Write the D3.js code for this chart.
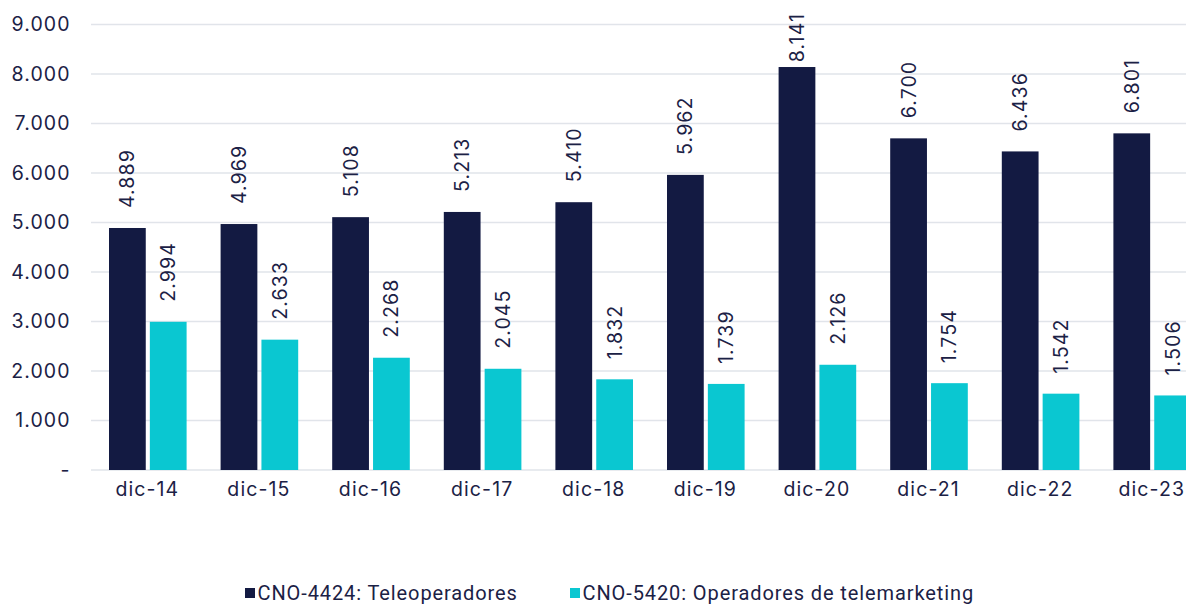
<!DOCTYPE html>
<html><head><meta charset="utf-8">
<script src="https://cdn.jsdelivr.net/npm/d3@7"></script>
<style>body{margin:0;background:#fff}svg{display:block}</style>
</head><body>
<svg id="c" width="1186" height="605"></svg>
<script>
const categories = ["dic-14","dic-15","dic-16","dic-17","dic-18","dic-19","dic-20","dic-21","dic-22","dic-23"];
const teleoperadores = [4889,4969,5108,5213,5410,5962,8141,6700,6436,6801];
const telemarketing = [2994,2633,2268,2045,1832,1739,2126,1754,1542,1506];
const seriesNames = ["CNO-4424: Teleoperadores","CNO-5420: Operadores de telemarketing"];
const yTicks = [0,1000,2000,3000,4000,5000,6000,7000,8000,9000];
const colors = ["#131a42","#0ac7d1"];
const textColor = "#1b2145";
const font = "Inter, 'Noto Sans', sans-serif";

(function(){
const svg = d3.select("#c");
const mLeft = 91, mRight = 1207, mTop = 24.5, mBottom = 470;
const fs = 19.5, ls = 1.1;
const x = d3.scaleBand().domain(categories).range([mLeft, mRight]).paddingInner(0).paddingOuter(0);
const inner = d3.scaleBand().domain([0,1]).range([18, x.bandwidth()-16]).paddingInner(0.1);
const y = d3.scaleLinear().domain([0,9000]).range([mBottom, mTop]);
const fmt = v => v === 0 ? "-" : d3.format(",")(v).replace(/,/g, ".");

svg.append("g").selectAll("line").data(yTicks).join("line")
  .attr("x1", mLeft).attr("x2", 1186)
  .attr("y1", d => y(d)).attr("y2", d => y(d))
  .attr("stroke", "#e1e4ea").attr("stroke-width", 1.3);

const yAxis = d3.axisLeft(y).tickValues(yTicks).tickFormat(fmt).tickSize(0).tickPadding(0);
const ya = svg.append("g").attr("transform", `translate(${69.5+ls},0)`).call(yAxis);
ya.select(".domain").remove();
ya.selectAll("text").attr("font-family", font).attr("font-size", fs).attr("letter-spacing", ls).attr("fill", textColor);

const xAxis = d3.axisBottom(x).tickSize(0).tickPadding(0);
const xa = svg.append("g").attr("transform", `translate(${ls/2},${mBottom+12})`).call(xAxis);
xa.select(".domain").remove();
xa.selectAll("text").attr("font-family", font).attr("font-size", fs).attr("letter-spacing", ls).attr("fill", textColor);

const series = [teleoperadores, telemarketing];
series.forEach((vals, si) => {
  const g = svg.append("g");
  g.selectAll("rect").data(vals).join("rect")
    .attr("x", (d,i) => x(categories[i]) + inner(si))
    .attr("width", inner.bandwidth())
    .attr("y", d => y(d))
    .attr("height", d => y(0) - y(d))
    .attr("fill", colors[si]);
  g.selectAll("text").data(vals).join("text")
    .attr("font-family", font).attr("font-size", fs).attr("letter-spacing", ls).attr("fill", textColor)
    .text(d => fmt(d))
    .attr("transform", function(d,i){
      const len = this.getComputedTextLength();
      const base = Math.max(y(d) - 20, 13 + len);
      return `translate(${x(categories[i]) + inner(si) + inner.bandwidth()/2 + 7},${base}) rotate(-90)`;
    });
});

const legendItems = [{x:245, name:seriesNames[0], c:colors[0]},{x:570, name:seriesNames[1], c:colors[1]}];
const lg = svg.append("g").selectAll("g").data(legendItems).join("g")
  .attr("transform", d => `translate(${d.x},593)`);
lg.append("rect").attr("x",0).attr("y",-5).attr("width",10).attr("height",10).attr("fill", d => d.c);
lg.append("text").attr("x", 12.5).attr("y", 7).attr("font-family", "Roboto, sans-serif").attr("font-size", 20)
  .attr("letter-spacing", 0.9).attr("fill", textColor).text(d => d.name);
})();
</script>
</body></html>
